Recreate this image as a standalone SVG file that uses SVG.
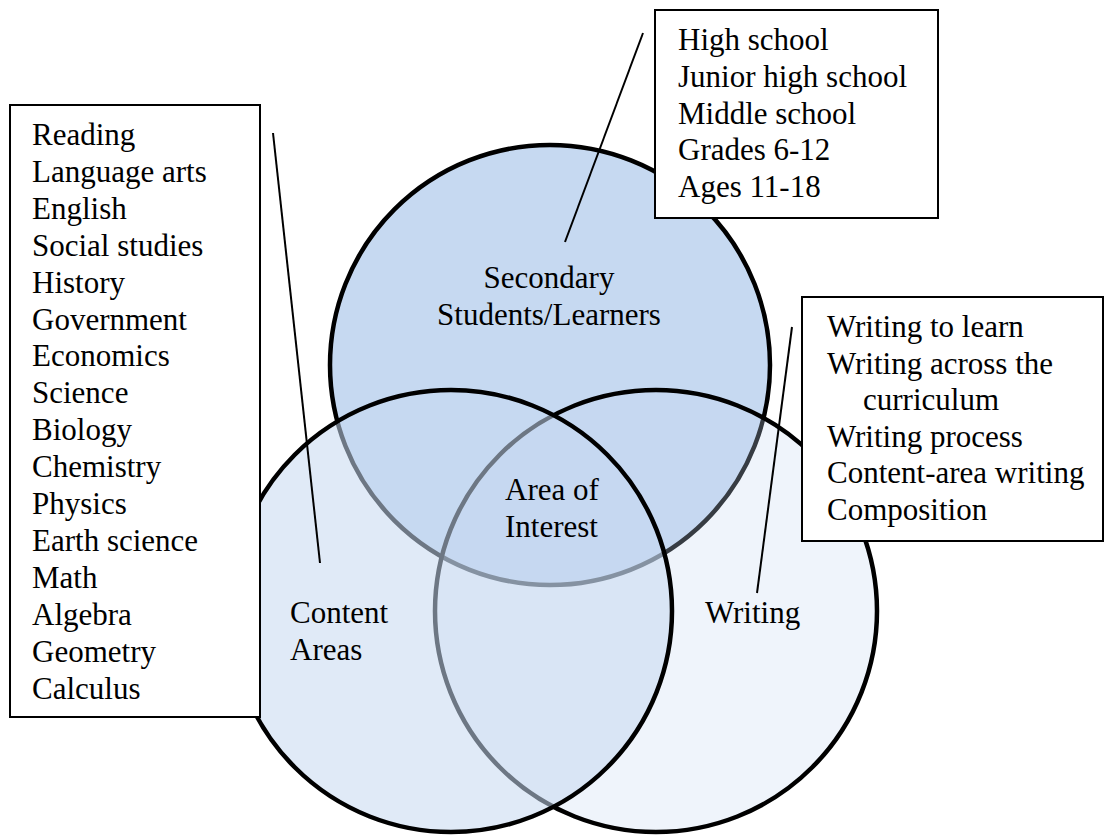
<svg xmlns="http://www.w3.org/2000/svg" width="1105" height="837" viewBox="0 0 1105 837">
<style>
.c{stroke:#000;stroke-width:4.5;fill:#c6d9f1}
.box{fill:#fff;stroke:#000;stroke-width:2}
.t{font-family:"Liberation Serif","Times New Roman","DejaVu Serif",serif;font-size:31px;fill:#000}
.conn line{stroke:#000;stroke-width:2}
</style>
<rect width="1105" height="837" fill="#fff"/>
<g id="circle-secondary">
<circle class="c" cx="550" cy="365" r="220"/>
</g>
<g id="circle-writing">
<circle class="c" cx="656" cy="611" r="221" fill-opacity="0.28"/>
</g>
<g id="circle-content">
<circle class="c" cx="451" cy="611" r="221" fill-opacity="0.55"/>
</g>
<g id="label-secondary">
<text class="t" x="549" y="288" text-anchor="middle">Secondary</text>
<text class="t" x="549" y="325" text-anchor="middle">Students/Learners</text>
</g>
<g id="label-interest">
<text class="t" x="505" y="500">Area of</text>
<text class="t" x="505" y="537">Interest</text>
</g>
<g id="label-content">
<text class="t" x="290" y="623">Content</text>
<text class="t" x="290" y="660">Areas</text>
</g>
<g id="label-writing">
<text class="t" x="705" y="623">Writing</text>
</g>
<g id="box-content">
<rect class="box" x="10" y="105" width="250" height="612"/>
<text class="t" x="32" y="145">
<tspan x="32" dy="0">Reading</tspan>
<tspan x="32" dy="36.9">Language arts</tspan>
<tspan x="32" dy="36.9">English</tspan>
<tspan x="32" dy="36.9">Social studies</tspan>
<tspan x="32" dy="36.9">History</tspan>
<tspan x="32" dy="36.9">Government</tspan>
<tspan x="32" dy="36.9">Economics</tspan>
<tspan x="32" dy="36.9">Science</tspan>
<tspan x="32" dy="36.9">Biology</tspan>
<tspan x="32" dy="36.9">Chemistry</tspan>
<tspan x="32" dy="36.9">Physics</tspan>
<tspan x="32" dy="36.9">Earth science</tspan>
<tspan x="32" dy="36.9">Math</tspan>
<tspan x="32" dy="36.9">Algebra</tspan>
<tspan x="32" dy="36.9">Geometry</tspan>
<tspan x="32" dy="36.9">Calculus</tspan>
</text>
</g>
<g id="box-secondary">
<rect class="box" x="655" y="10" width="283" height="208"/>
<text class="t" x="678" y="50">
<tspan x="678" dy="0">High school</tspan>
<tspan x="678" dy="36.8">Junior high school</tspan>
<tspan x="678" dy="36.8">Middle school</tspan>
<tspan x="678" dy="36.8">Grades 6-12</tspan>
<tspan x="678" dy="36.8">Ages 11-18</tspan>
</text>
</g>
<g id="box-writing">
<rect class="box" x="802" y="297" width="301" height="244"/>
<text class="t" x="827" y="337">
<tspan x="827" dy="0">Writing to learn</tspan>
<tspan x="827" dy="36.6">Writing across the</tspan>
<tspan x="863" dy="36.6">curriculum</tspan>
<tspan x="827" dy="36.6">Writing process</tspan>
<tspan x="827" dy="36.6">Content-area writing</tspan>
<tspan x="827" dy="36.6">Composition</tspan>
</text>
</g>
<g id="connectors" class="conn">
<line x1="643" y1="33" x2="565" y2="242"/>
<line x1="273" y1="133" x2="320" y2="563"/>
<line x1="792" y1="327" x2="757" y2="593"/>
</g>
</svg>
